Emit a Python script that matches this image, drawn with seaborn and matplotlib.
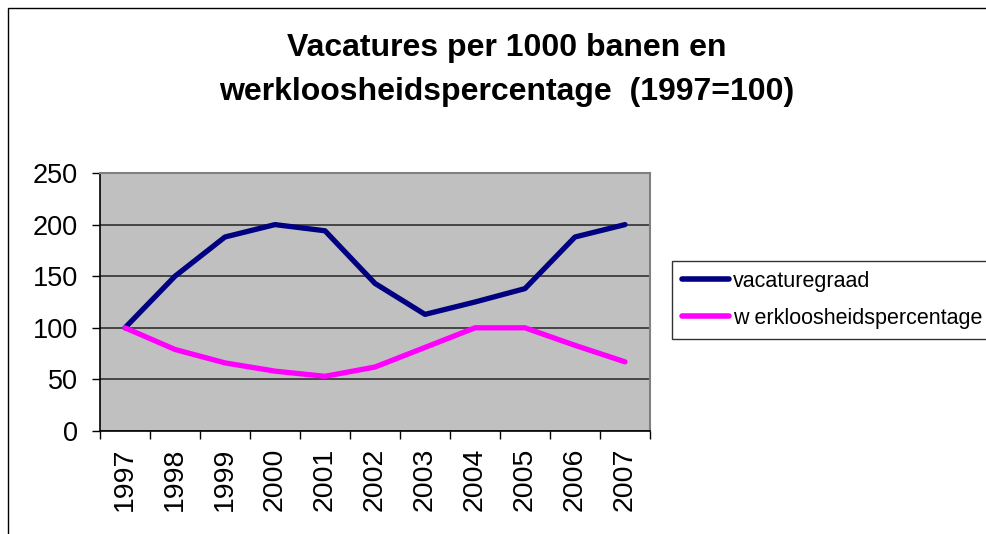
import matplotlib
matplotlib.use("Agg")
import matplotlib.pyplot as plt
from matplotlib.patches import Rectangle
from matplotlib.ticker import FixedLocator, NullFormatter
import seaborn as sns
import pandas as pd

years = [1997, 1998, 1999, 2000, 2001, 2002, 2003, 2004, 2005, 2006, 2007]
vacaturegraad = [100, 150, 188, 200, 194, 143, 113, 125, 138, 188, 200]
werkloosheid = [100, 79, 66, 58, 53, 62, 81, 100, 100, 83, 67]
series_names = ["vacaturegraad", "w erkloosheidspercentage"]
yticks = [0, 50, 100, 150, 200, 250]
title = "Vacatures per 1000 banen en\nwerkloosheidspercentage  (1997=100)"

df = pd.DataFrame({
    "year": years * 2,
    "value": vacaturegraad + werkloosheid,
    "series": [series_names[0]] * len(years) + [series_names[1]] * len(years),
})

sns.set_style("white")
plt.rcParams["font.family"] = ["Liberation Sans", "DejaVu Sans"]
plt.rcParams["text.color"] = "black"
plt.rcParams["xtick.color"] = "black"
plt.rcParams["ytick.color"] = "black"
plt.rcParams["xtick.labelcolor"] = "black"
plt.rcParams["ytick.labelcolor"] = "black"

fig = plt.figure(figsize=(9.87, 5.34), dpi=100)
ax = fig.add_axes([100 / 987, 1 - 431 / 534, 550 / 987, 258 / 534])
ax.set_facecolor("#C0C0C0")

sns.lineplot(data=df, x="year", y="value", hue="series",
             palette={series_names[0]: "#000080", series_names[1]: "#FF00FF"},
             linewidth=3.8, ax=ax, legend=True, solid_capstyle="round")

ax.set_xlim(years[0] - 0.5, years[-1] + 0.5)
ax.set_ylim(0, 250)
ax.set_yticks(yticks)
ax.set_xticks(years)
ax.set_xticklabels([str(y) for y in years], rotation=90)
ax.xaxis.set_minor_locator(FixedLocator([y - 0.5 for y in years] + [years[-1] + 0.5]))
ax.xaxis.set_minor_formatter(NullFormatter())
ax.tick_params(axis="x", which="major", length=0, pad=12, labelsize=20.5)
ax.tick_params(axis="x", which="minor", length=6, width=1, color="black", direction="out", bottom=True)
ax.tick_params(axis="y", which="major", length=6, width=1, color="black", direction="out", left=True, labelsize=19.5, pad=10)
ax.set_xlabel("")
ax.set_ylabel("")
ax.grid(axis="y", color="#303030", linewidth=1.2)
ax.grid(axis="x", visible=False)
ax.set_axisbelow(True)

for s in ["left", "bottom"]:
    ax.spines[s].set_color("black")
    ax.spines[s].set_linewidth(1.2)
for s in ["top", "right"]:
    ax.spines[s].set_color("#808080")
    ax.spines[s].set_linewidth(1.5)

leg = ax.legend(loc="upper left", bbox_to_anchor=(672 / 987, 1 - 261 / 534),
                bbox_transform=fig.transFigure, frameon=True, fancybox=False,
                fontsize=15.5, handlelength=2.2, handletextpad=0.2,
                borderpad=0.45, labelspacing=0.75, borderaxespad=0)
leg.get_frame().set_edgecolor("black")
leg.get_frame().set_linewidth(1.0)
for line in leg.get_lines():
    line.set_linewidth(4)

fig.text(507 / 987, 1 - 70 / 534, title, ha="center", va="center",
         fontsize=23, fontweight="bold", linespacing=1.6)

fig.patches.append(Rectangle((8 / 987, -0.1), 1.2, (1 - 8 / 534) + 0.1,
                             transform=fig.transFigure, fill=False,
                             edgecolor="black", linewidth=1.0))

fig.savefig("out.png", dpi=100, facecolor="white")
